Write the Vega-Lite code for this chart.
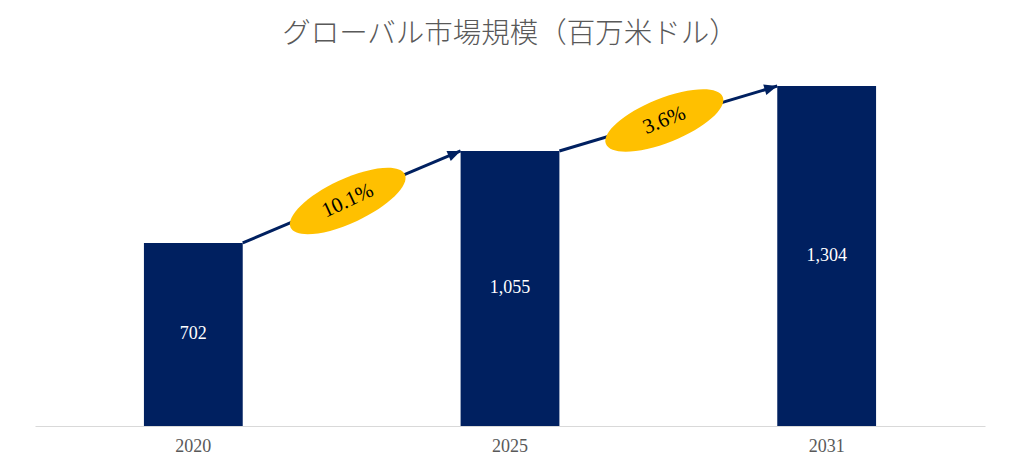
{
  "$schema": "https://vega.github.io/schema/vega-lite/v6.json",
  "width": 950,
  "height": 365,
  "autosize": "none",
  "padding": {"left": 35, "top": 61, "right": 30, "bottom": 35},
  "title": {
    "text": "グローバル市場規模（百万米ドル）",
    "font": "Noto Sans CJK JP",
    "fontSize": 28.5,
    "fontWeight": 300,
    "color": "#595959",
    "anchor": "middle",
    "frame": "group",
    "baseline": "bottom",
    "offset": -16
  },
  "datasets": {
    "bars": [
      {"year": "2020", "value": 702},
      {"year": "2025", "value": 1055},
      {"year": "2031", "value": 1304}
    ],
    "arrows": [
      {"from": "2020", "to": "2025", "v0": 702, "v1": 1055, "cagr": "10.1%"},
      {"from": "2025", "to": "2031", "v0": 1055, "v1": 1304, "cagr": "3.6%"}
    ]
  },
  "config": {
    "view": {"stroke": null},
    "axisX": {
      "domain": true,
      "domainColor": "#d9d9d9",
      "domainWidth": 1,
      "ticks": false,
      "grid": false,
      "labelAngle": 0,
      "labelColor": "#595959",
      "labelFont": "Liberation Serif",
      "labelFontSize": 18,
      "labelPadding": 11
    }
  },
  "resolve": {"scale": {"y": "independent"}},
  "layer": [
    {
      "layer": [
        {
          "data": {"name": "bars"},
          "mark": {"type": "bar", "color": "#002060"},
          "encoding": {
            "x": {"field": "year", "type": "nominal", "title": null,
                  "scale": {"type": "band", "domain": ["2020", "2025", "2031"], "paddingInner": 0.688, "paddingOuter": 0.344}},
            "y": {"field": "value", "type": "quantitative", "axis": null, "scale": {"domain": [0, 1400]}}
          }
        },
        {
          "data": {"name": "arrows"},
          "mark": {"type": "rule", "color": "#002060", "strokeWidth": 3},
          "encoding": {
            "x": {"field": "from", "type": "nominal", "bandPosition": 1, "title": null,
                  "scale": {"type": "band", "domain": ["2020", "2025", "2031"]}},
            "x2": {"field": "to", "bandPosition": 0},
            "y": {"field": "v0", "type": "quantitative", "axis": null, "scale": {"domain": [0, 1400]}},
            "y2": {"field": "v1"}
          }
        },
        {
          "data": {"name": "arrows"},
          "transform": [{"filter": {"field": "from", "equal": "2020"}}],
          "mark": {"type": "point", "shape": "M0,0L-1,-0.42L-1,0.42Z", "size": 676, "filled": true, "color": "#002060", "opacity": 1, "angle": 337},
          "encoding": {
            "x": {"field": "to", "type": "nominal", "bandPosition": 0, "title": null,
                  "scale": {"type": "band", "domain": ["2020", "2025", "2031"]}},
            "y": {"field": "v1", "type": "quantitative", "axis": null, "scale": {"domain": [0, 1400]}}
          }
        },
        {
          "data": {"name": "arrows"},
          "transform": [{"filter": {"field": "from", "equal": "2025"}}],
          "mark": {"type": "point", "shape": "M0,0L-1,-0.42L-1,0.42Z", "size": 676, "filled": true, "color": "#002060", "opacity": 1, "angle": 343.5},
          "encoding": {
            "x": {"field": "to", "type": "nominal", "bandPosition": 0, "title": null,
                  "scale": {"type": "band", "domain": ["2020", "2025", "2031"]}},
            "y": {"field": "v1", "type": "quantitative", "axis": null, "scale": {"domain": [0, 1400]}}
          }
        },
        {
          "data": {"name": "arrows"},
          "transform": [
            {"filter": {"field": "from", "equal": "2020"}},
            {"fold": ["v0", "v1"]},
            {"aggregate": [{"op": "mean", "field": "value", "as": "mid"}], "groupby": ["from", "cagr"]}
          ],
          "encoding": {
            "x": {"field": "from", "type": "nominal", "bandPosition": 2.103, "title": null,
                  "scale": {"type": "band", "domain": ["2020", "2025", "2031"]}},
            "y": {"field": "mid", "type": "quantitative", "axis": null, "scale": {"domain": [0, 1400]}}
          },
          "layer": [
            {
              "mark": {"type": "point", "shape": "M-1,0C-1,-0.193,-0.552,-0.35,0,-0.35C0.552,-0.35,1,-0.193,1,0C1,0.193,0.552,0.35,0,0.35C-0.552,0.35,-1,0.193,-1,0Z",
                       "size": 15876, "filled": true, "color": "#FFC000", "opacity": 1, "angle": 335, "xOffset": -4, "yOffset": 4}
            },
            {
              "mark": {"type": "text", "font": "Liberation Serif", "fontSize": 21, "color": "#000000", "angle": 335, "align": "center", "baseline": "middle", "xOffset": -4, "yOffset": 4},
              "encoding": {"text": {"field": "cagr", "type": "nominal"}}
            }
          ]
        },
        {
          "data": {"name": "arrows"},
          "transform": [
            {"filter": {"field": "from", "equal": "2025"}},
            {"fold": ["v0", "v1"]},
            {"aggregate": [{"op": "mean", "field": "value", "as": "mid"}], "groupby": ["from", "cagr"]}
          ],
          "encoding": {
            "x": {"field": "from", "type": "nominal", "bandPosition": 2.103, "title": null,
                  "scale": {"type": "band", "domain": ["2020", "2025", "2031"]}},
            "y": {"field": "mid", "type": "quantitative", "axis": null, "scale": {"domain": [0, 1400]}}
          },
          "layer": [
            {
              "mark": {"type": "point", "shape": "M-1,0C-1,-0.193,-0.552,-0.35,0,-0.35C0.552,-0.35,1,-0.193,1,0C1,0.193,0.552,0.35,0,0.35C-0.552,0.35,-1,0.193,-1,0Z",
                       "size": 15876, "filled": true, "color": "#FFC000", "opacity": 1, "angle": 338, "xOffset": -4, "yOffset": 2}
            },
            {
              "mark": {"type": "text", "font": "Liberation Serif", "fontSize": 21, "color": "#000000", "angle": 338, "align": "center", "baseline": "middle", "xOffset": -4, "yOffset": 2},
              "encoding": {"text": {"field": "cagr", "type": "nominal"}}
            }
          ]
        }
      ]
    },
    {
      "data": {"name": "bars"},
      "mark": {"type": "text", "color": "#ffffff", "font": "Liberation Serif", "fontSize": 18, "align": "center", "baseline": "middle"},
      "encoding": {
        "x": {"field": "year", "type": "nominal", "title": null,
              "scale": {"type": "band", "domain": ["2020", "2025", "2031"]}},
        "y": {"field": "value", "type": "quantitative", "axis": null, "scale": {"domain": [0, 2800]}},
        "text": {"field": "value", "type": "quantitative", "format": ","}
      }
    }
  ]
}
